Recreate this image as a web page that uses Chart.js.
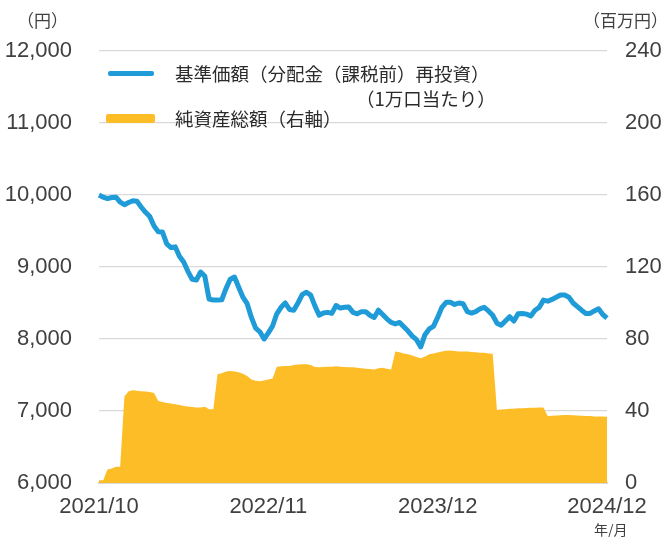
<!DOCTYPE html>
<html lang="ja">
<head>
<meta charset="utf-8">
<script src="https://cdn.jsdelivr.net/npm/chart.js@4.4.1/dist/chart.umd.min.js"></script>
<style>
  body { margin: 0; background: #fff; }
  .wrap { position: relative; width: 665px; height: 537px; font-family: 'Noto Sans CJK JP', sans-serif; color: #333; }
  .unit { position: absolute; font-size: 17px; color: #404040; }
  .leg { position: absolute; font-size: 18.5px; line-height: 19px; white-space: nowrap; color: #2b2b2b; }
  .swatch { position: absolute; }
</style>
</head>
<body>
<div class="wrap">
  <canvas id="myChart"></canvas>
  <div class="unit" style="left:17px;top:7px;">（円）</div>
  <div class="unit" style="left:583px;top:7px;">（百万円）</div>
  <div class="unit" style="left:594px;top:519px;font-size:14px;">年/月</div>

  <div class="swatch" style="left:108px;top:71px;width:46px;height:5px;border-radius:2px;background:#1f9bd7;"></div>
  <div class="leg" style="left:175px;top:64px;">基準価額（分配金（課税前）再投資）</div>
  <div class="leg" style="left:356px;top:89px;">（1万口当たり）</div>
  <div class="swatch" style="left:106px;top:114px;width:49px;height:9px;border-radius:2px;background:#fdbd27;"></div>
  <div class="leg" style="left:175px;top:109px;">純資産総額（右軸）</div>
</div>
<script>
// 基準価額（円）
let navValues = [
  10000, 9970, 9950, 9965, 9970, 9900, 9865, 9895, 9920, 9912,
  9830, 9760, 9700, 9570, 9490, 9485, 9320, 9270, 9280, 9150,
  9070, 8940, 8830, 8820, 8930, 8870, 8555, 8540, 8540, 8545,
  8700, 8830, 8860, 8720, 8580, 8490, 8300, 8150, 8100, 8000,
  8085, 8180, 8350, 8440, 8500, 8410, 8400, 8500, 8615, 8650,
  8610, 8460, 8330, 8360, 8370, 8355, 8465, 8430, 8440, 8445,
  8370, 8350, 8380, 8380, 8330, 8300, 8400, 8340, 8280, 8230,
  8210, 8230, 8170, 8110, 8040, 7990, 7890, 8060, 8140, 8175,
  8300, 8440, 8510, 8510, 8480, 8500, 8490, 8380, 8360, 8380,
  8420, 8440, 8390, 8330, 8220, 8190, 8250, 8310, 8250, 8350,
  8355, 8345, 8320, 8400, 8440, 8540, 8525, 8550, 8580, 8610,
  8610, 8580, 8500, 8450, 8400, 8355, 8355, 8390, 8420, 8340,
  8290
];

// 純資産総額（百万円）
let assetValues = [
  1.5, 1.5, 7.5, 8, 9, 9, 48, 51, 51.5, 51.3,
  51, 50.8, 50.5, 50, 45.5, 45, 44.5, 44.2, 43.8, 43.3,
  42.8, 42.5, 42.2, 41.9, 42, 42.4, 41, 41, 60.4, 61,
  62, 62.2, 62, 61.5, 60.7, 59.5, 57.5, 56.8, 56.5, 57,
  57.5, 58, 64.6, 64.8, 65, 65, 65.5, 65.9, 66, 66,
  65.5, 64.5, 64.3, 64.5, 64.6, 64.6, 64.8, 64.6, 64.5, 64.3,
  64.3, 64, 63.8, 63.5, 63.3, 63.1, 63.8, 64, 63.5, 63.1,
  73, 72.6, 72, 71.5, 70.8, 70, 69.3, 70.3, 71.5, 72,
  72.5, 73, 73.5, 73.6, 73.3, 73, 73, 73, 72.8, 72.6,
  72.4, 72.4, 72, 71.8, 40.6, 40.8, 41, 41.2, 41.3, 41.5,
  41.5, 41.6, 41.8, 41.8, 42, 42, 37.2, 37.4, 37.5, 37.6,
  37.8, 37.8, 37.6, 37.5, 37.3, 37.2, 37.2, 37, 37, 36.9,
  36.8
];

let tickLabels = ['2021/10', '2022/11', '2023/12', '2024/12'];
let labelStep = 40;
let points = navValues.map((v, i) => i);

let tickFont = { family: "'Liberation Sans', Arial, sans-serif", size: 22 };
let tickColor = '#404040';

let ctx = document.getElementById('myChart').getContext('2d');
let myChart = new Chart(ctx, {
    type: 'line',
    data: {
        labels: points,
        datasets: [{
            label: '基準価額（分配金（課税前）再投資）',
            data: navValues,
            yAxisID: 'y',
            borderColor: '#1f9bd7',
            borderWidth: 5,
            borderJoinStyle: 'round',
            pointRadius: 0,
            fill: false,
            tension: 0,
        },{
            label: '純資産総額（右軸）',
            data: assetValues,
            yAxisID: 'y2',
            borderWidth: 0,
            borderColor: 'rgba(0,0,0,0)',
            backgroundColor: '#fdbd27',
            pointRadius: 0,
            fill: 'origin',
            tension: 0,
        }]
    },
    options: {
        responsive: true,
        maintainAspectRatio: false,
        animation: false,
        locale: 'en-US',
        layout: { padding: { top: 51, left: 0, right: 0, bottom: 0 } },
        scales: {
            x: {
                offset: false,
                grid: { display: false, drawTicks: false },
                border: { display: true, color: '#d9d9d9', width: 2 },
                ticks: {
                    autoSkip: false,
                    maxRotation: 0,
                    padding: 11,
                    font: tickFont,
                    color: tickColor,
                    callback: function(v, i) {
                        return i % labelStep === 0 ? tickLabels[i / labelStep] : '';
                    }
                },
                afterFit: function(s) { s.height = 54; }
            },
            y: {
                position: 'left',
                min: 6000,
                max: 12000,
                grid: { color: '#d9d9d9', lineWidth: 1.3, drawTicks: false },
                border: { display: false },
                ticks: { stepSize: 1000, padding: 27, font: tickFont, color: tickColor },
                afterFit: function(s) { s.width = 99; }
            },
            y2: {
                position: 'right',
                min: 0,
                max: 240,
                grid: { drawOnChartArea: false, drawTicks: false },
                border: { display: false },
                ticks: { stepSize: 40, padding: 18, font: tickFont, color: tickColor },
                afterFit: function(s) { s.width = 58; }
            }
        },
        plugins: {
            legend: { display: false },
            tooltip: { enabled: false }
        }
    }
});
</script>
</body>
</html>
